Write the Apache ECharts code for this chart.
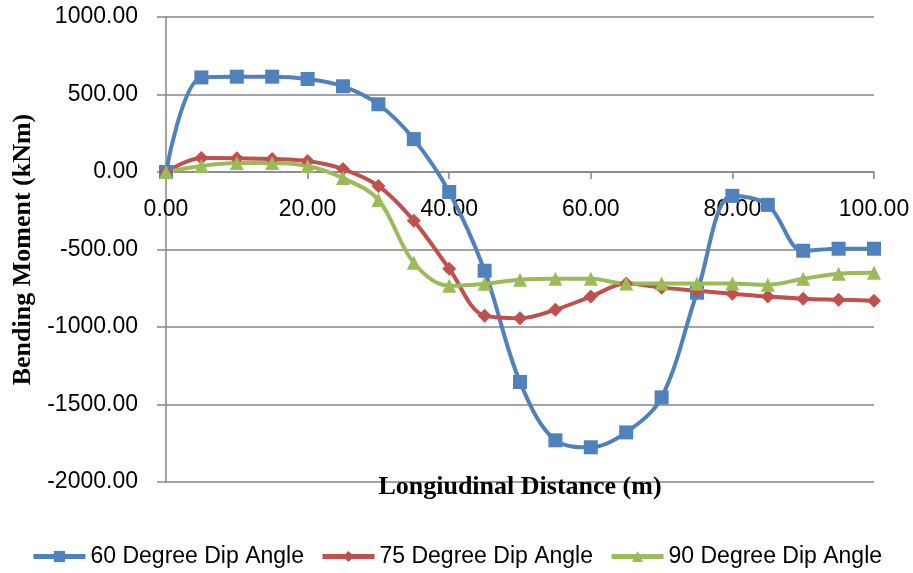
<!DOCTYPE html>
<html>
<head>
<meta charset="utf-8">
<script src="https://cdn.jsdelivr.net/npm/echarts@6/dist/echarts.min.js"></script>
<style>
  html, body { margin: 0; padding: 0; background: #fff; }
  #chart { width: 913px; height: 573px; }
</style>
</head>
<body>
<div id="chart"></div>
<script>
// longitudinal distance (m)
var distance = [0, 5, 10, 15, 20, 25, 30, 35, 40, 45, 50, 55, 60, 65, 70, 75, 80, 85, 90, 95, 100];
// bending moment (kNm) per dip angle
var dip60 = [0, 610, 615, 615, 600, 553, 437, 212, -129, -637, -1355, -1731, -1776, -1680, -1454, -779, -154, -212, -508, -495, -495];
var dip75 = [0, 90, 88, 84, 71, 19, -90, -315, -624, -927, -943, -888, -804, -720, -746, -766, -785, -804, -817, -824, -830];
var dip90 = [0, 39, 58, 58, 39, -39, -180, -586, -734, -721, -695, -689, -689, -720, -720, -720, -720, -727, -689, -656, -650];
var seriesNames = ['60 Degree Dip Angle', '75 Degree Dip Angle', '90 Degree Dip Angle'];

function pairs(ys) {
    var out = [];
    for (var i = 0; i < distance.length; i++) {
        out.push([distance[i], ys[i]]);
    }
    return out;
}

var chart = echarts.init(document.getElementById('chart'));
var gray = '#868686';
var numFont = 'Liberation Sans';
var titleFont = 'Liberation Serif';
var plotH = 573 - 17 - 91;
// x axis sits on the zero line: 1000 of the 3000 range lies above it
var zeroOffset = -Math.round(plotH * 2000 / 3000);

function lineSeries(name, ys, color, symbol, size) {
    return {
        name: name,
        type: 'line',
        data: pairs(ys),
        smooth: 0.35,
        symbol: symbol,
        symbolSize: size,
        lineStyle: { color: color, width: 4 },
        itemStyle: { color: color },
        animation: false
    };
}

var option = {
    backgroundColor: '#fff',
    grid: { left: 166, right: 39, top: 17, bottom: 91, containLabel: false, outerBoundsMode: 'none' },
    legend: {
        bottom: 0,
        left: 'center',
        itemWidth: 52,
        itemHeight: 14,
        itemGap: 16,
        lineStyle: { width: 5 },
        textStyle: { fontFamily: numFont, fontSize: 23, color: '#000' },
        data: seriesNames
    },
    xAxis: {
        type: 'value',
        min: 0,
        max: 100,
        interval: 20,
        position: 'bottom',
        offset: zeroOffset,
        name: 'Longiudinal Distance (m)',
        nameLocation: 'middle',
        nameGap: 302,
        nameTextStyle: { fontFamily: titleFont, fontWeight: 'bold', fontSize: 26, color: '#000' },
        axisLine: { onZero: false, lineStyle: { color: gray, width: 1.5 } },
        axisTick: { show: true, length: 7, lineStyle: { color: gray, width: 1.5 } },
        axisLabel: {
            margin: 26,
            fontFamily: numFont,
            fontSize: 23,
            color: '#000',
            formatter: function(v) { return v.toFixed(2); }
        },
        splitLine: { show: false }
    },
    yAxis: {
        type: 'value',
        min: -2000,
        max: 1000,
        interval: 500,
        name: 'Bending Moment (kNm)',
        nameLocation: 'middle',
        nameGap: 129,
        nameTextStyle: { fontFamily: titleFont, fontWeight: 'bold', fontSize: 26, color: '#000' },
        axisLine: { show: true, onZero: false, lineStyle: { color: gray, width: 1.5 } },
        axisTick: { show: true, length: 9, lineStyle: { color: gray, width: 1.5 } },
        axisLabel: {
            margin: 28,
            fontFamily: numFont,
            fontSize: 23,
            color: '#000',
            formatter: function(v) { return v.toFixed(2); }
        },
        splitLine: { show: true, lineStyle: { color: gray, width: 1.5 } }
    },
    series: [
        lineSeries(seriesNames[0], dip60, '#4F81BD', 'rect', 14),
        lineSeries(seriesNames[1], dip75, '#C0504D', 'diamond', 14),
        lineSeries(seriesNames[2], dip90, '#9BBB59', 'triangle', 14)
    ]
};
chart.setOption(option);
</script>
</body>
</html>
